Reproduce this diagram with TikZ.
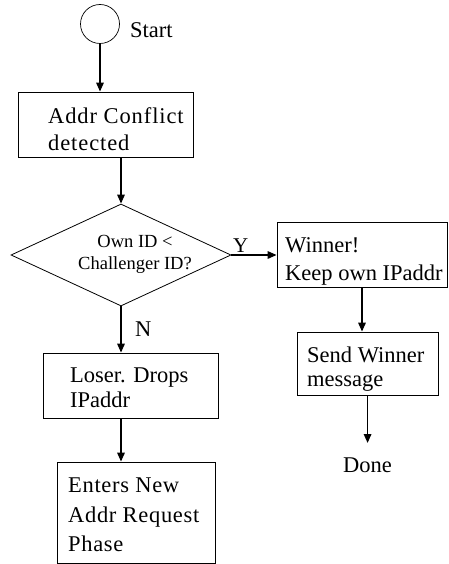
\documentclass[tikz,border=0pt]{standalone}
\usepackage{fontspec}
\setmainfont{Liberation Serif}
\usetikzlibrary{shapes.geometric,arrows.meta}
\begin{document}
\begin{tikzpicture}[x=1pt,y=-1pt,
  boxshape/.style={draw, line width=0.8pt, inner sep=0, rectangle},
  arr/.style={draw, line width=1.6pt, -{Triangle[length=9pt,width=7.5pt]}},
  txt/.style={inner sep=0, anchor=north west, align=left},
  big/.style={font=\fontsize{22.5}{#1}\selectfont},
  big/.default=27
]
\useasboundingbox (0,0) rectangle (448,564);

\node[circle, draw, line width=0.7pt, minimum size=39pt, inner sep=0] (st) at (100,24) {};
\node[txt, big] (stl) at (130,22) {Start};

\node[boxshape, minimum width=175pt, minimum height=65pt] (b1) at (105.5,124.5) {};
\node[txt, big=27, font=\fontsize{22.5}{27}\selectfont\addfontfeatures{LetterSpace=4}] (t1) at (48,107) {Addr Conflict\\detected};

\node[diamond, draw, line width=0.8pt, minimum width=220pt, minimum height=102pt, inner sep=0] (dia) at (121,255) {};
\node[txt, font=\fontsize{18.5}{22}\selectfont, align=center, anchor=north] (td) at (135,235) {Own ID <\\Challenger ID?};

\node[boxshape, minimum width=170pt, minimum height=65pt] (win) at (362,254.5) {};
\node[txt, big=28] (tw) at (285,237) {Winner!\\Keep own IPaddr};

\node[boxshape, minimum width=141pt, minimum height=63pt] (send) at (367.5,363.5) {};
\node[txt, big=24] (ts) at (307,347) {Send Winner\\message};

\node[txt, big] (done) at (343,458) {Done};

\node[boxshape, minimum width=175pt, minimum height=65pt] (lose) at (130.5,385.5) {};
\node[txt, big=25] (tl) at (70,368) {Loser. Drops\\IPaddr};

\node[boxshape, minimum width=158pt, minimum height=101pt] (ent) at (136,512.5) {};
\node[txt, big=29.5, font=\fontsize{22.5}{29.5}\selectfont\addfontfeatures{LetterSpace=3}] (te) at (68,478) {Enters New\\Addr Request\\Phase};

\node[txt, font=\fontsize{21}{22}\selectfont] (ylab) at (233,239) {Y};
\node[txt, big] (nlab) at (135,322) {N};

\draw[arr] (st.south) -- (st.south |- b1.north);
\draw[arr] (dia.north |- b1.south) -- (dia.north);
\draw[arr] (dia.east) -- (dia.east -| win.west);
\draw[arr] (win.south) -- (win.south |- send.north);
\draw[arr, shorten >=15pt] (send.south -| done.north) -- (done.north);
\draw[arr] (dia.south) -- (dia.south |- lose.north);
\draw[arr] (dia.south |- lose.south) -- (dia.south |- ent.north);
\end{tikzpicture}
\end{document}
